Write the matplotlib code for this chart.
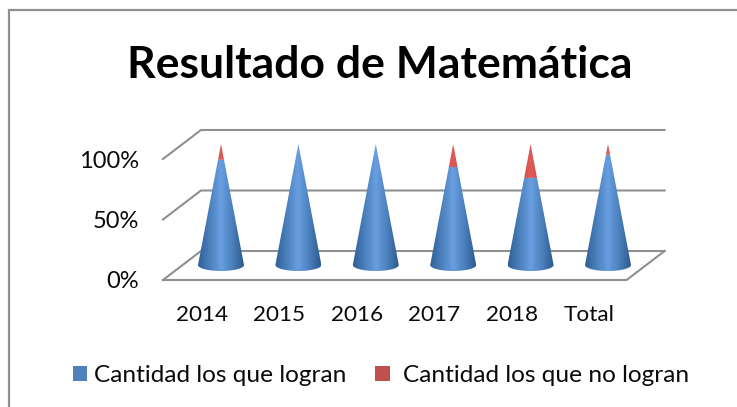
import matplotlib
matplotlib.use("Agg")
import matplotlib.pyplot as plt
from matplotlib.colors import LinearSegmentedColormap
from matplotlib.patches import PathPatch, Rectangle
from matplotlib.path import Path
import numpy as np

plt.rcParams["font.family"] = ["Lato", "DejaVu Sans"]

years = ["2014", "2015", "2016", "2017", "2018", "Total"]
logran = [87, 100, 100, 81, 72, 91]
no_logran = [13, 0, 0, 19, 28, 9]
y_ticks = [0, 50, 100]
y_tick_labels = ["0%", "50%", "100%"]
legend_labels = ["Cantidad los que logran", "Cantidad los que no logran"]

W, H = 737, 407
fig = plt.figure(figsize=(W / 100, H / 100), dpi=100)
ax = fig.add_axes([0, 0, 1, 1])

# one category = 77.4 px, one percent = 1.21 px, cone base centre at (221, 265)
XS, YS = 77.4, 1.21
ax.set_xlim((0 - 221) / XS, (W - 221) / XS)
ax.set_ylim((265 - H) / YS, 265 / YS)
ax.axis("off")


def dx(px):
    return px / XS


def dy(px):
    return px / YS


# chart frame: only left and top edges are inside the crop
ax.plot([dx(8.5 - 221), dx(8.5 - 221), dx(W - 221)],
        [(265 - H) / YS, dy(265 - 10), dy(265 - 10)],
        color="#8e8e8e", lw=1.6, clip_on=False, solid_joinstyle="miter")

# 3d floor and back wall lines
left, right = -0.75, 5.24
depth_x, depth_y = dx(38), dy(29)
floor_y = dy(-15)
grid_col = "#8f8f8f"
for v in y_ticks:
    y0 = floor_y + v * 1.0
    ax.plot([left, left + depth_x, right + depth_x], [y0, y0 + depth_y, y0 + depth_y],
            color=grid_col, lw=1.5, solid_joinstyle="miter")
ax.plot([left, right, right + depth_x], [floor_y, floor_y, floor_y + depth_y],
        color=grid_col, lw=1.5, solid_joinstyle="miter")

blue_cm = LinearSegmentedColormap.from_list("b", ["#2f5f96", "#4b80bd", "#699ee0", "#4b80bd", "#2c5a90"])
red_cm = LinearSegmentedColormap.from_list("r", ["#a83c3a", "#c94c49", "#de5a56", "#c94c49", "#a03836"])
half_w = dx(23)
ell_h = dy(6)
grad = np.linspace(0, 1, 128).reshape(1, -1)


def shaded(path, cmap, x0, ymin, ymax):
    im = ax.imshow(grad, cmap=cmap, extent=[x0 - half_w, x0 + half_w, ymin, ymax],
                   aspect="auto", zorder=3, interpolation="bilinear")
    patch = PathPatch(path, transform=ax.transData, facecolor="none", edgecolor="none")
    ax.add_patch(patch)
    im.set_clip_path(patch)


xlim, ylim = ax.get_xlim(), ax.get_ylim()
for i, (a, b) in enumerate(zip(logran, no_logran)):
    total = a + b
    # half width of the cone at the split between the two series
    w_split = half_w * (1 - a / total)
    theta = np.linspace(np.pi, 2 * np.pi, 40)
    xs = list(i + half_w * np.cos(theta)) + [i + w_split, i - w_split, i - half_w]
    ys = list(ell_h * np.sin(theta)) + [a, a, 0]
    shaded(Path(np.column_stack([xs, ys])), blue_cm, i, -ell_h, a)
    if b > 0:
        xr = [i - w_split, i + w_split, i, i - w_split]
        yr = [a, a, total, a]
        shaded(Path(np.column_stack([xr, yr])), red_cm, i, a, total)
ax.set_xlim(xlim)
ax.set_ylim(ylim)

# tick labels
for v, lab in zip(y_ticks, y_tick_labels):
    ax.text(dx(139 - 221), floor_y + v, lab, ha="right", va="center_baseline",
            fontsize=17, color="#0a0a0a")
for i, lab in enumerate(years):
    ax.text(i - dx(19), dy(265 - 313), lab, ha="center", va="center_baseline",
            fontsize=16.2, color="#0a0a0a")

ax.text(dx(380 - 221), dy(265 - 61), "Resultado de Matemática", ha="center", va="center_baseline",
        fontsize=32, fontweight="bold", color="black")

# legend
ax.add_patch(Rectangle((dx(72.5 - 221), dy(265 - 381)), dx(14.5), dy(15), facecolor="#4f81bd"))
ax.add_patch(Rectangle((dx(375 - 221), dy(265 - 381)), dx(14.5), dy(15), facecolor="#c0504d"))
ax.text(dx(94 - 221), dy(265 - 373), legend_labels[0], ha="left", va="center_baseline",
        fontsize=17.6, color="#0a0a0a")
ax.text(dx(403 - 221), dy(265 - 373), legend_labels[1], ha="left", va="center_baseline",
        fontsize=17.6, color="#0a0a0a")

fig.savefig("out.png", dpi=100)
